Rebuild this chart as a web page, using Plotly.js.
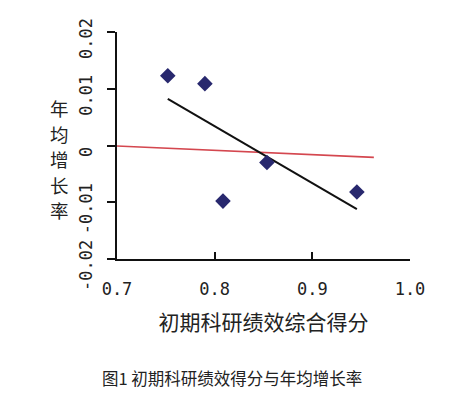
<!DOCTYPE html>
<html><head><meta charset="utf-8">
<script src="https://cdn.plot.ly/plotly-3.0.1.min.js"></script>
<style>html,body{margin:0;padding:0;background:#fff}#chart{width:471px;height:397px}</style>
</head><body><div id="chart"></div>
<script>
// scatter points
const scoreX = [0.752, 0.790, 0.8085, 0.8535, 0.9456];
const growthY = [0.0123, 0.0109, -0.0098, -0.0030, -0.0082];
// black fitted line endpoints
const fitX = [0.752, 0.9456];
const fitY = [0.0082, -0.0112];
// red reference line endpoints
const refX = [0.70, 0.963];
const refY = [-0.0001, -0.0021];
const xTicks = [0.7, 0.8, 0.9, 1.0];
const xTickText = ['0.7', '0.8', '0.9', '1.0'];
const yTicks = [-0.02, -0.01, 0, 0.01, 0.02];
const yTickText = ['-0.02', '-0.01', '0', '0.01', '0.02'];
const xTitle = '初期科研绩效综合得分';
const yTitleChars = ['年', '均', '增', '长', '率'];
const caption = '图1 初期科研绩效得分与年均增长率';

const traces = [
  {x: refX, y: refY, mode: 'lines', line: {color: '#d4474f', width: 1.6}, hoverinfo: 'skip'},
  {x: fitX, y: fitY, mode: 'lines', line: {color: '#111111', width: 2}, hoverinfo: 'skip'},
  {x: scoreX, y: growthY, mode: 'markers', marker: {symbol: 'diamond', size: 12, color: '#28286e'}}
];
const tickFont = {family: 'DejaVu Sans Mono, monospace', size: 17, color: '#222'};
const cjkFont = {family: 'Noto Sans CJK SC', size: 18.5, color: '#222'};

// y title: one upright character per annotation, stacked
const yTitleAnnots = yTitleChars.map((ch, i) => ({
  text: ch, xref: 'paper', yref: 'paper',
  x: -0.195, y: 0.665 - i * 0.1125, xanchor: 'center', yanchor: 'middle',
  borderpad: 0, showarrow: false, font: cjkFont
}));

const layout = {
  width: 471, height: 397,
  margin: {l: 117, r: 61, t: 32, b: 138},
  paper_bgcolor: '#fff', plot_bgcolor: '#fff',
  showlegend: false,
  xaxis: {
    range: [0.7, 1.0], tickvals: xTicks, ticktext: xTickText,
    showgrid: false, zeroline: false, showline: true, linecolor: '#111', linewidth: 2,
    ticks: 'inside', ticklen: 7, tickwidth: 2, tickcolor: '#111',
    tickfont: tickFont, ticklabelstandoff: 14,
    title: {text: xTitle, font: {family: 'Noto Sans CJK SC', size: 21, color: '#222'}, standoff: 17}
  },
  yaxis: {
    range: [-0.02, 0.02], tickvals: yTicks, ticktext: yTickText,
    showgrid: false, zeroline: false, showline: true, linecolor: '#111', linewidth: 2,
    ticks: 'outside', ticklen: 8, tickwidth: 2, tickcolor: '#111',
    tickangle: -90, tickfont: tickFont, ticklabelstandoff: 8, ticklabelshift: 9,
    ticklabeloverflow: 'allow'
  },
  annotations: yTitleAnnots.concat([
    {text: caption, xref: 'paper', yref: 'paper', x: 0.392, y: -0.524, xanchor: 'center', yanchor: 'middle',
     showarrow: false, font: {family: 'Noto Sans CJK SC', size: 16.5, color: '#222'}}
  ])
};
Plotly.newPlot('chart', traces, layout, {displayModeBar: false, staticPlot: true});
</script></body></html>
